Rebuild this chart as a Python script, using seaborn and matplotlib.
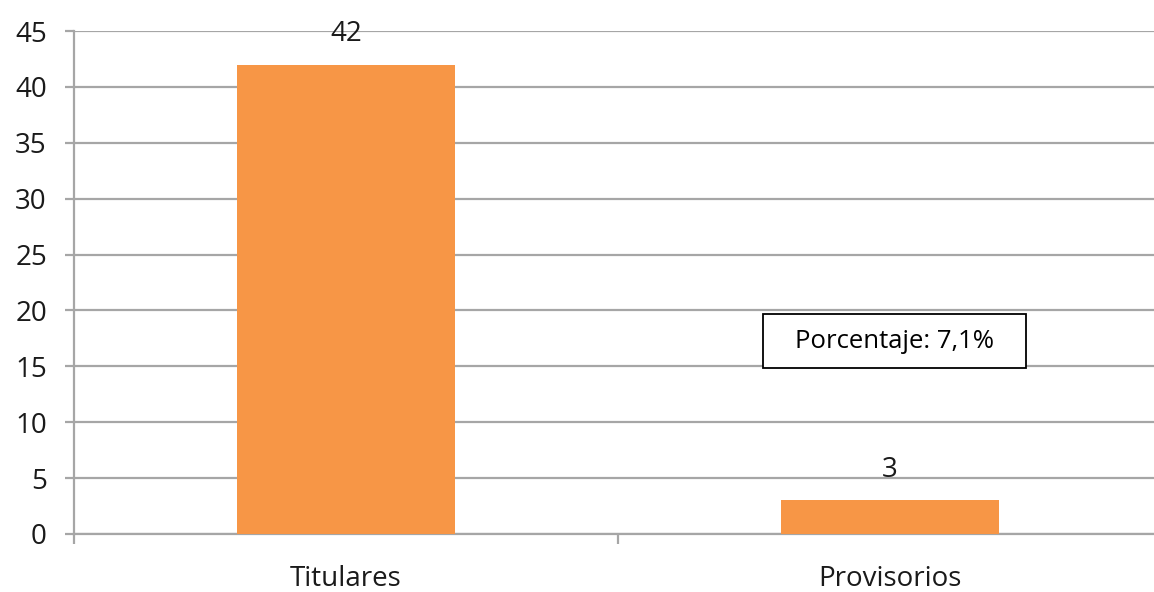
import matplotlib
matplotlib.use("Agg")
import matplotlib.pyplot as plt
from matplotlib.patches import Rectangle
import seaborn as sns
import pandas as pd

# Data
categories = ["Titulares", "Provisorios"]
counts = [42, 3]
note_text = "Porcentaje: 7,1%"
y_ticks = [0, 5, 10, 15, 20, 25, 30, 35, 40, 45]

df = pd.DataFrame({"Tipo": categories, "Cantidad": counts})

sns.set_theme(style="white")
plt.rcParams["font.family"] = ["Open Sans", "DejaVu Sans"]

fig = plt.figure(figsize=(11.54, 5.92), dpi=100)
ax = fig.add_axes([74 / 1154, 58 / 592, 1088 / 1154, 503 / 592])

sns.barplot(
    data=df, x="Tipo", y="Cantidad", hue="Tipo",
    palette=["#F79646", "#F79646"], legend=False,
    width=0.4, saturation=1, linewidth=0, ax=ax, zorder=3,
)

grid_col = "#A6A6A6"
text_col = "#1A1A1A"

ax.set_ylim(0, 45)
ax.set_xlim(-0.5, 1.5)
ax.set_yticks(y_ticks)
ax.yaxis.grid(True, color=grid_col, linewidth=1.6, zorder=0)
ax.set_axisbelow(True)

for side in ["top", "right"]:
    ax.spines[side].set_visible(False)
for side in ["left", "bottom"]:
    ax.spines[side].set_color(grid_col)
    ax.spines[side].set_linewidth(1.6)

ax.tick_params(axis="y", left=True, length=6.5, width=1.6, color=grid_col,
               labelsize=20, labelcolor=text_col, pad=13)
ax.tick_params(axis="x", which="major", length=0, labelsize=20,
               labelcolor=text_col, pad=22)
ax.set_xticks([-0.5, 0.5, 1.5], minor=True)
ax.tick_params(axis="x", which="minor", bottom=True, length=7, width=1.6,
               color=grid_col)

ax.set_xlabel("")
ax.set_ylabel("")

ax.bar_label(ax.containers[0], padding=12, fontsize=20, color=text_col)
ax.bar_label(ax.containers[1], padding=12, fontsize=20, color=text_col)

# note box (axes-fraction position)
box_x0, box_x1 = 0.633, 0.875
box_y0, box_y1 = 0.330, 0.437
ax.add_patch(Rectangle((box_x0, box_y0), box_x1 - box_x0, box_y1 - box_y0,
                       transform=ax.transAxes, facecolor="white",
                       edgecolor="black", linewidth=1.3, zorder=5))
ax.text((box_x0 + box_x1) / 2, (box_y0 + box_y1) / 2, note_text,
        transform=ax.transAxes, ha="center", va="center", fontsize=18.5,
        color="black", zorder=6)

fig.savefig("out.png", dpi=100)
